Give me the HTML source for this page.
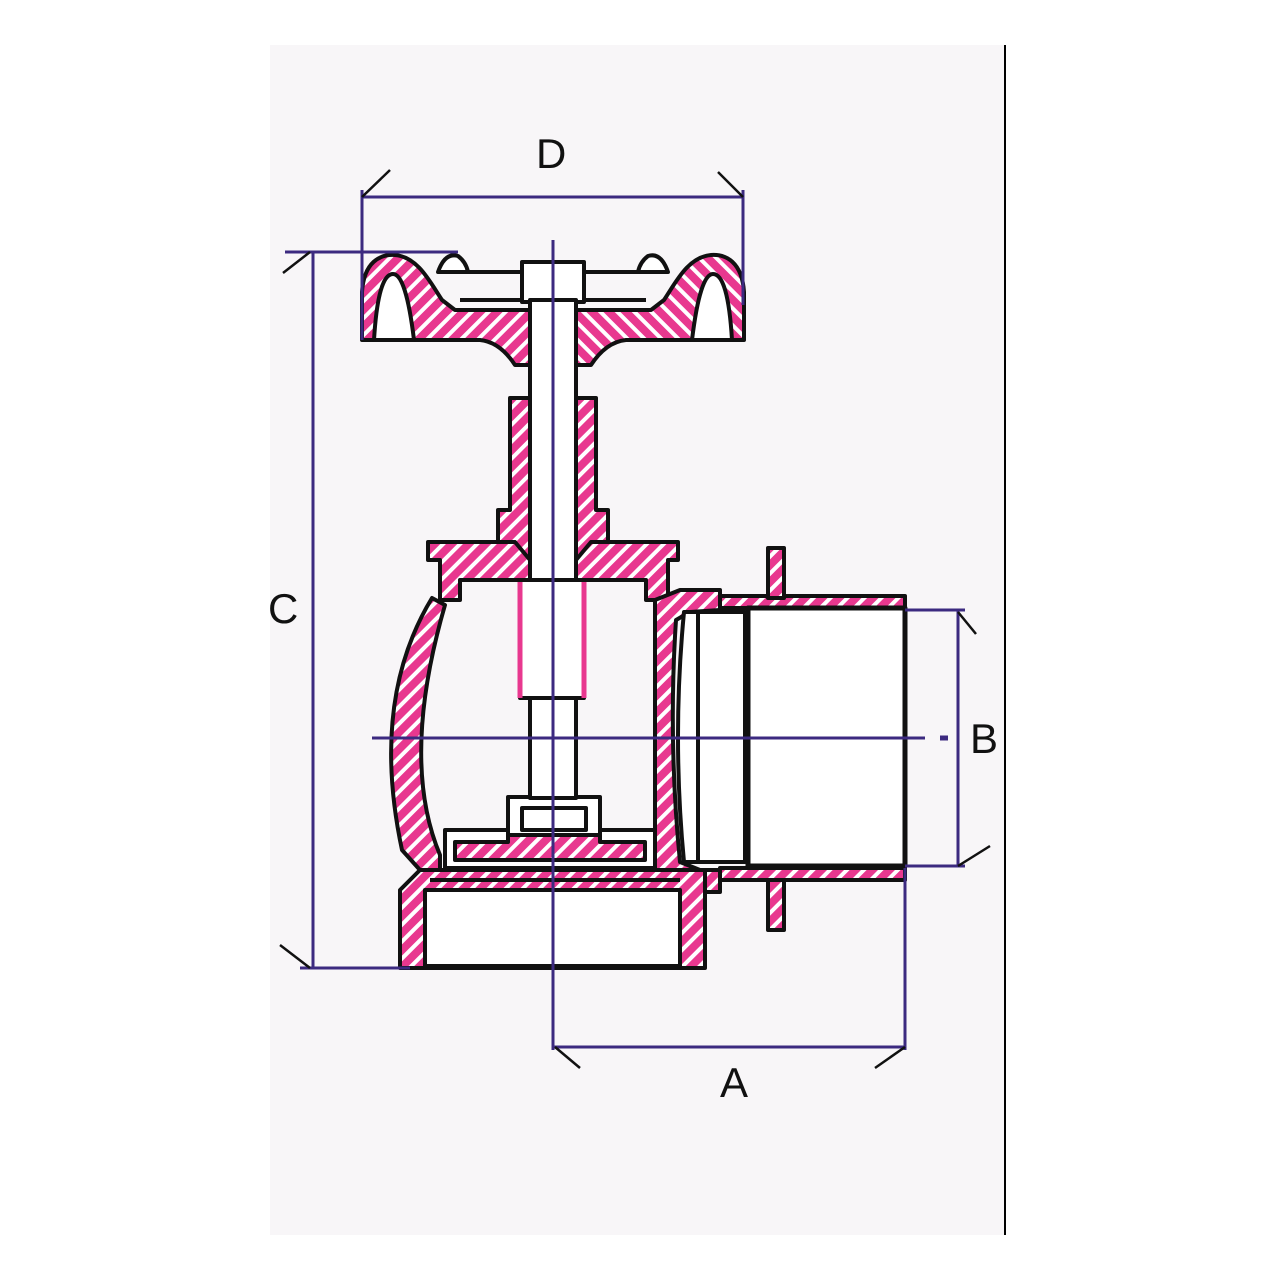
<!DOCTYPE html>
<html><head><meta charset="utf-8"><style>html,body{margin:0;padding:0;background:#fff}svg{display:block}</style></head><body>
<svg width="1280" height="1280" viewBox="0 0 1280 1280" xmlns="http://www.w3.org/2000/svg">
<defs>
<pattern id="h" patternUnits="userSpaceOnUse" width="12" height="12" patternTransform="rotate(45)">
<rect width="12" height="12" fill="#e8388f"/><rect x="0" width="4" height="12" fill="#fff"/>
</pattern>
</defs>
<rect x="270" y="45" width="735" height="1190" fill="#f8f6f8"/>
<line x1="1005" y1="45" x2="1005" y2="1235" stroke="#000" stroke-width="2"/>

<g stroke="#111" stroke-width="4" stroke-linejoin="round">
<g id="hw">
<path d="M362,340 L362,292 C364,262 380,254 395,255 C418,257 430,282 442,300 L455,310 L530,310 L530,365 L515,365 Q500,342 480,340 Z" fill="url(#h)"/>
<path d="M374,340 Q378,274 393,274 Q406,274 414,340 Z" fill="#fff"/>
<path d="M438,272 Q445,252 458,256 Q466,262 468,272 Z" fill="#fff"/>
<path d="M462,272 L522,272 L522,300 L460,300" fill="none"/>
</g>
<use href="#hw" transform="translate(1106,0) scale(-1,1)"/>
<rect x="522" y="262" width="62" height="40" fill="#fff"/>
<path d="M510,398 L530,398 L530,580 L498,580 L498,510 L510,510 Z" fill="url(#h)"/>
<path d="M596,398 L576,398 L576,580 L608,580 L608,510 L596,510 Z" fill="url(#h)"/>
<path d="M428,542 L515,542 L530,560 L530,580 L460,580 L460,600 L440,600 L440,560 L428,560 Z" fill="url(#h)"/>
<path d="M678,542 L591,542 L576,560 L576,580 L646,580 L646,600 L668,600 L668,560 L678,560 Z" fill="url(#h)"/>
<path d="M432,598 Q370,700 402,850 L420,870 L440,870 L440,855 Q400,760 445,605 Z" fill="url(#h)"/>
<path d="M655,600 L680,590 L720,590 L720,610 L690,612 L676,620 Q668,740 680,862 L700,870 L720,870 L720,892 L680,892 L655,875 Z" fill="url(#h)"/>
<path d="M400,968 L400,890 L420,870 L705,870 L705,968 Z" fill="url(#h)"/>
<rect x="425" y="890" width="255" height="76" fill="#fff"/>
<line x1="430" y1="880" x2="680" y2="880"/>
<rect x="445" y="830" width="210" height="38" fill="#fff"/>
<path d="M455,842 L508,842 L508,835 L600,835 L600,842 L645,842 L645,860 L455,860 Z" fill="url(#h)"/>
<rect x="508" y="797" width="92" height="38" fill="#fff"/>
<rect x="522" y="808" width="64" height="22" fill="#fff"/>
<rect x="530" y="300" width="46" height="498" fill="#fff"/>
<rect x="520" y="580" width="64" height="118" fill="#fff"/>
<line x1="520" y1="582" x2="520" y2="698" stroke="#e8388f" stroke-width="5"/>
<line x1="584" y1="582" x2="584" y2="698" stroke="#e8388f" stroke-width="5"/>
<path d="M720,596 L905,596 L905,608 L720,608 Z" fill="url(#h)"/>
<path d="M720,868 L905,868 L905,880 L720,880 Z" fill="url(#h)"/>
<rect x="768" y="548" width="16" height="50" fill="url(#h)"/>
<rect x="768" y="880" width="16" height="50" fill="url(#h)"/>
<path d="M684,612 L745,612 L745,862 L684,862 Q672,737 684,612 Z" fill="#fff"/>
<line x1="698" y1="614" x2="698" y2="860"/>
<rect x="748" y="608" width="157" height="258" fill="#fff" stroke-width="5"/>
</g>

<g stroke="#3c2a80" stroke-width="3" fill="none">
<line x1="362" y1="197" x2="743" y2="197"/>
<line x1="362" y1="190" x2="362" y2="340"/>
<line x1="743" y1="190" x2="743" y2="305"/>
<line x1="313" y1="252" x2="313" y2="968"/>
<line x1="285" y1="252" x2="458" y2="252"/>
<line x1="300" y1="968" x2="410" y2="968"/>
<line x1="958" y1="610" x2="958" y2="866"/>
<line x1="905" y1="610" x2="965" y2="610"/>
<line x1="905" y1="866" x2="965" y2="866"/>
<line x1="553" y1="1047" x2="905" y2="1047"/>
<line x1="553" y1="240" x2="553" y2="1050"/>
<line x1="905" y1="868" x2="905" y2="1050"/>
<line x1="372" y1="738" x2="925" y2="738"/>
<line x1="940" y1="738" x2="948" y2="738" stroke-width="5"/>
</g>
<g stroke="#111" stroke-width="2.5">
<line x1="362" y1="197" x2="390" y2="170"/>
<line x1="743" y1="197" x2="718" y2="172"/>
<line x1="310" y1="252" x2="283" y2="273"/>
<line x1="310" y1="968" x2="280" y2="945"/>
<line x1="958" y1="612" x2="976" y2="634"/>
<line x1="958" y1="866" x2="990" y2="846"/>
<line x1="555" y1="1047" x2="580" y2="1068"/>
<line x1="905" y1="1047" x2="875" y2="1068"/>
</g>
<g font-family="Liberation Sans, sans-serif" font-size="42" fill="#111">
<text x="536" y="168">D</text>
<text x="268" y="623">C</text>
<text x="970" y="753">B</text>
<text x="720" y="1097">A</text>
</g>
</svg>
</body></html>
